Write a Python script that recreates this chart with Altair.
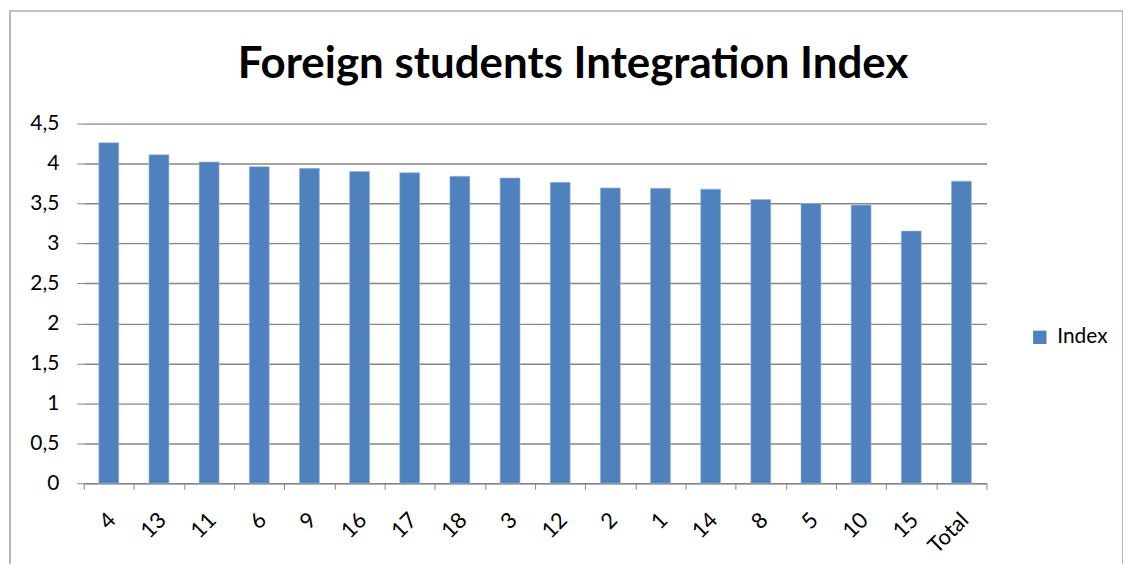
import altair as alt
import pandas as pd

categories = ["4", "13", "11", "6", "9", "16", "17", "18", "3", "12", "2", "1", "14", "8", "5", "10", "15", "Total"]
values = [4.26, 4.11, 4.02, 3.96, 3.94, 3.90, 3.885, 3.84, 3.82, 3.765, 3.695, 3.69, 3.68, 3.55, 3.50, 3.48, 3.155, 3.78]
series = ["Index"] * len(categories)

df = pd.DataFrame({"cat": categories, "value": values, "series": series})

FONT = "Lato"
GRAY = "#868686"

bars = alt.Chart(df).mark_bar(size=20, color="#4F81BD", stroke="#9DB9DD", strokeWidth=0.6).encode(
    x=alt.X("cat:N", sort=categories, title=None,
            scale=alt.Scale(paddingInner=0, paddingOuter=0),
            axis=alt.Axis(labelAngle=-45, labelAlign="right", labelBaseline="middle",
                          labelFontSize=22, labelColor="black", labelFont=FONT,
                          tickBand="extent", tickSize=6, tickColor=GRAY, domainColor=GRAY,
                          labelPadding=27, labelOffset=3, grid=False)),
    y=alt.Y("value:Q", title=None,
            scale=alt.Scale(domain=[0, 4.5], nice=False),
            axis=alt.Axis(values=[0, 0.5, 1, 1.5, 2, 2.5, 3, 3.5, 4, 4.5],
                          labelExpr="replace(format(datum.value, '.1~f'), '.', ',')",
                          labelFontSize=21, labelColor="black", labelFont=FONT,
                          tickSize=7, tickColor=GRAY, domainColor=GRAY, labelPadding=18,
                          grid=True, gridColor=GRAY, gridWidth=1.4)),
    fill=alt.Fill("series:N", title=None,
                  scale=alt.Scale(domain=["Index"], range=["#4F81BD"]),
                  legend=alt.Legend(orient="none", legendX=949, legendY=204,
                                    symbolType="square", symbolSize=180, symbolStrokeWidth=0,
                                    labelFontSize=21, labelFont=FONT, labelColor="black",
                                    labelOffset=7)),
)

frame_df = pd.DataFrame({"k": [0]})
frame = alt.Chart(frame_df).mark_rect(fill=None, stroke=GRAY, strokeWidth=1.2).encode(
    x=alt.value(-74), x2=alt.value(1043), y=alt.value(-113), y2=alt.value(470)
)

chart = alt.layer(frame, bars).properties(
    width=906, height=361,
    title=alt.TitleParams("Foreign students Integration Index", fontSize=44, font=FONT,
                          fontWeight="bold", color="black", anchor="middle", dx=38, offset=-77),
    autosize=alt.AutoSizeParams(type="none"),
    padding={"left": 76, "top": 115, "right": 137, "bottom": 80},
).configure_view(stroke=None).configure_axisY(domain=False)

chart.save("out.html", embed_options={"renderer": "svg", "actions": False})
